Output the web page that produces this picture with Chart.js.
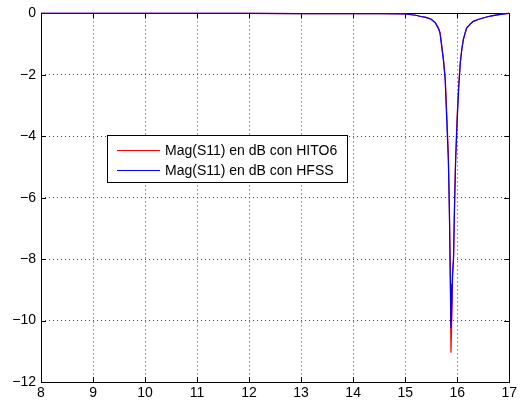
<!DOCTYPE html>
<html>
<head>
<meta charset="utf-8">
<script src="https://cdn.jsdelivr.net/npm/chart.js@4"></script>
<style>
  body { margin: 0; background: #fff; }
  #wrap { width: 520px; height: 405px; position: relative; }
</style>
</head>
<body>
<div id="wrap"><canvas id="grafico"></canvas></div>
<script>
// frecuencia (GHz) y magnitud de S11 en dB
const frecuencias = [8, 9, 10, 11, 12, 13, 14, 14.5, 15, 15.2, 15.3, 15.4, 15.5, 15.58, 15.64, 15.67, 15.7, 15.74, 15.77,
  15.8, 15.83, 15.85, 15.87, 15.88, 15.89, 15.91, 15.93, 15.95, 15.97, 16, 16.03, 16.06, 16.09, 16.12, 16.18, 16.25,
  16.31, 16.4, 16.5, 16.6, 16.69, 16.8, 16.94, 17];
const s11Hito6 = [0, 0, 0, 0, 0, -0.01, -0.01, -0.01, -0.02, -0.06, -0.1, -0.13, -0.19, -0.3, -0.47, -0.62, -1.0, -1.55, -2.1,
  -3.3, -4.6, -6.3, -9.0, -11.05, -10.4, -8.6, -7.9, -6.1, -4.7, -3.3, -2.3, -1.6, -1.15, -0.84, -0.48, -0.35,
  -0.26, -0.2, -0.15, -0.1, -0.07, -0.04, -0.01, 0];
const s11Hfss = [0, 0, 0, 0, 0, -0.01, -0.01, -0.01, -0.02, -0.06, -0.1, -0.13, -0.19, -0.31, -0.5, -0.64, -1.05, -1.6, -2.2,
  -3.5, -4.8, -6.5, -8.8, -10.25, -10.0, -8.5, -8.0, -6.2, -4.8, -3.5, -2.4, -1.6, -1.15, -0.84, -0.48, -0.35,
  -0.26, -0.2, -0.15, -0.1, -0.07, -0.04, -0.01, 0];
const etiquetas = ['Mag(S11) en dB con HITO6', 'Mag(S11) en dB con HFSS'];
const colores = ['#ff0000', '#0000ff'];
const fuente = '"Liberation Sans", Arial, sans-serif';

function puntos(ys) {
  return frecuencias.map((x, i) => ({ x: x, y: ys[i] }));
}

const marcoPlugin = {
  id: 'marco',
  beforeDatasetsDraw(chart) {
    const ctx = chart.ctx;
    const a = chart.chartArea;
    const sx = chart.scales.x, sy = chart.scales.y;
    ctx.save();
    ctx.strokeStyle = '#000';
    ctx.lineWidth = 1;
    ctx.beginPath();
    sx.ticks.forEach(t => {
      const px = Math.round(sx.getPixelForValue(t.value)) + 0.5;
      ctx.moveTo(px, a.bottom); ctx.lineTo(px, a.bottom - 5);
      ctx.moveTo(px, a.top); ctx.lineTo(px, a.top + 5);
    });
    sy.ticks.forEach(t => {
      const py = Math.round(sy.getPixelForValue(t.value)) + 0.5;
      ctx.moveTo(a.left, py); ctx.lineTo(a.left + 5, py);
      ctx.moveTo(a.right, py); ctx.lineTo(a.right - 5, py);
    });
    ctx.stroke();
    ctx.strokeRect(Math.round(a.left) + 0.5, Math.round(a.top) + 0.5, Math.round(a.right - a.left), Math.round(a.bottom - a.top));
    ctx.restore();
  },
  afterDraw(chart) {
    const ctx = chart.ctx;
    ctx.save();
    ctx.fillStyle = '#fff';
    ctx.fillRect(107.5, 135.5, 240, 47);
    ctx.strokeStyle = '#000';
    ctx.lineWidth = 1;
    ctx.strokeRect(107.5, 135.5, 240, 47);
    ctx.font = '14px ' + fuente;
    ctx.textBaseline = 'middle';
    chart.data.datasets.forEach((ds, i) => {
      const y = 150 + i * 20 + 0.5;
      ctx.strokeStyle = ds.borderColor;
      ctx.beginPath();
      ctx.moveTo(117, y); ctx.lineTo(160, y);
      ctx.stroke();
      ctx.fillStyle = '#000';
      ctx.fillText(ds.label, 165, y + 0.5);
    });
    ctx.restore();
  }
};

new Chart(document.getElementById('grafico'), {
  type: 'scatter',
  data: {
    datasets: [
      { label: etiquetas[0], data: puntos(s11Hito6), borderColor: colores[0], backgroundColor: colores[0], order: 1 },
      { label: etiquetas[1], data: puntos(s11Hfss), borderColor: colores[1], backgroundColor: colores[1], order: 0 }
    ]
  },
  options: {
    responsive: true,
    maintainAspectRatio: false,
    animation: false,
    showLine: true,
    datasets: { scatter: { showLine: true, pointRadius: 0, borderWidth: 1.2, tension: 0, clip: false } },
    layout: { padding: { left: 0, right: 9, top: 12, bottom: 0 } },
    plugins: { legend: { display: false }, tooltip: { enabled: false } },
    scales: {
      x: {
        type: 'linear', min: 8, max: 17,
        afterFit: s => { s.height = 23; },
        ticks: { stepSize: 1, color: '#000', padding: 3, maxRotation: 0, font: { size: 14, family: fuente } },
        grid: { color: '#444', lineWidth: 1, drawTicks: false },
        border: { display: false, dash: [1, 3] }
      },
      y: {
        type: 'linear', min: -12, max: 0,
        afterFit: s => { s.width = 41; },
        ticks: {
          stepSize: 2, color: '#000', padding: 5,
          font: { size: 14, family: fuente },
          callback: v => v < 0 ? '\u2212' + Math.abs(v) : String(v)
        },
        grid: { color: '#444', lineWidth: 1, drawTicks: false },
        border: { display: false, dash: [1, 3] }
      }
    }
  },
  plugins: [marcoPlugin]
});
</script>
</body>
</html>
